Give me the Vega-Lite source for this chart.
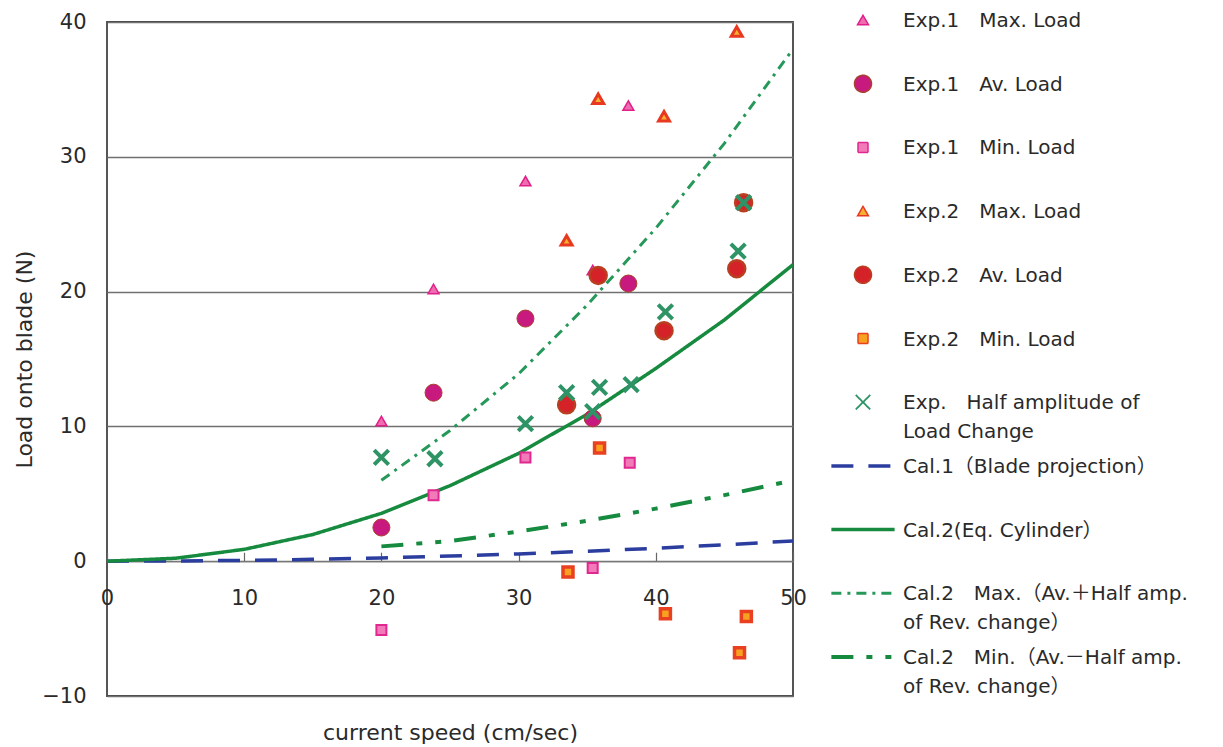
{
  "$schema": "https://vega.github.io/schema/vega-lite/v6.json",
  "padding": {"left": 12, "top": 10, "right": 5, "bottom": 5},
  "bounds": "flush",
  "spacing": 70,
  "background": "white",
  "config": {"font": "DejaVu Sans, Noto Sans CJK JP", "view": {"stroke": null}},
  "datasets": {
    "lines": [
      {"series": "cal1", "x": 0, "y": 0}, {"series": "cal1", "x": 5, "y": 0.02}, {"series": "cal1", "x": 10, "y": 0.06},
      {"series": "cal1", "x": 15, "y": 0.14}, {"series": "cal1", "x": 20, "y": 0.24}, {"series": "cal1", "x": 25, "y": 0.38},
      {"series": "cal1", "x": 30, "y": 0.54}, {"series": "cal1", "x": 35, "y": 0.74}, {"series": "cal1", "x": 40, "y": 0.96},
      {"series": "cal1", "x": 45, "y": 1.22}, {"series": "cal1", "x": 50, "y": 1.5},
      {"series": "cal2", "x": 0, "y": 0}, {"series": "cal2", "x": 5, "y": 0.22}, {"series": "cal2", "x": 10, "y": 0.88},
      {"series": "cal2", "x": 15, "y": 1.98}, {"series": "cal2", "x": 20, "y": 3.55}, {"series": "cal2", "x": 25, "y": 5.6},
      {"series": "cal2", "x": 30, "y": 8.0}, {"series": "cal2", "x": 35, "y": 10.9}, {"series": "cal2", "x": 40, "y": 14.3},
      {"series": "cal2", "x": 45, "y": 17.9}, {"series": "cal2", "x": 50, "y": 22.0},
      {"series": "cal2max", "x": 20, "y": 6.0}, {"series": "cal2max", "x": 25, "y": 9.7}, {"series": "cal2max", "x": 30, "y": 13.9},
      {"series": "cal2max", "x": 35, "y": 19.0}, {"series": "cal2max", "x": 40, "y": 24.7}, {"series": "cal2max", "x": 45, "y": 31.0},
      {"series": "cal2max", "x": 50, "y": 38.0},
      {"series": "cal2min", "x": 20, "y": 1.1}, {"series": "cal2min", "x": 25, "y": 1.5}, {"series": "cal2min", "x": 30, "y": 2.2},
      {"series": "cal2min", "x": 35, "y": 3.0}, {"series": "cal2min", "x": 40, "y": 3.9}, {"series": "cal2min", "x": 45, "y": 4.9},
      {"series": "cal2min", "x": 50, "y": 6.0}
    ],
    "points": [
      {"series": "e1max", "x": 20.0, "y": 10.4}, {"series": "e1max", "x": 23.8, "y": 20.2}, {"series": "e1max", "x": 30.5, "y": 28.2},
      {"series": "e1max", "x": 35.4, "y": 21.6}, {"series": "e1max", "x": 38.0, "y": 33.8},
      {"series": "e1av", "x": 20.0, "y": 2.5}, {"series": "e1av", "x": 23.8, "y": 12.5}, {"series": "e1av", "x": 30.5, "y": 18.0},
      {"series": "e1av", "x": 35.4, "y": 10.6}, {"series": "e1av", "x": 38.0, "y": 20.6},
      {"series": "e1min", "x": 20.0, "y": -5.1}, {"series": "e1min", "x": 23.8, "y": 4.9}, {"series": "e1min", "x": 30.5, "y": 7.7},
      {"series": "e1min", "x": 35.4, "y": -0.5}, {"series": "e1min", "x": 38.1, "y": 7.3},
      {"series": "e2max", "x": 33.5, "y": 23.8}, {"series": "e2max", "x": 35.8, "y": 34.3}, {"series": "e2max", "x": 40.6, "y": 33.0},
      {"series": "e2max", "x": 45.9, "y": 39.3},
      {"series": "e2av", "x": 33.5, "y": 11.6}, {"series": "e2av", "x": 35.8, "y": 21.2}, {"series": "e2av", "x": 40.6, "y": 17.1},
      {"series": "e2av", "x": 45.9, "y": 21.7}, {"series": "e2av", "x": 46.4, "y": 26.6},
      {"series": "e2min", "x": 33.6, "y": -0.8}, {"series": "e2min", "x": 35.9, "y": 8.4}, {"series": "e2min", "x": 40.7, "y": -3.9},
      {"series": "e2min", "x": 46.1, "y": -6.8}, {"series": "e2min", "x": 46.6, "y": -4.1},
      {"series": "half", "x": 20.0, "y": 7.7}, {"series": "half", "x": 23.9, "y": 7.6}, {"series": "half", "x": 30.5, "y": 10.2},
      {"series": "half", "x": 35.4, "y": 11.1}, {"series": "half", "x": 38.2, "y": 13.1}, {"series": "half", "x": 33.5, "y": 12.5},
      {"series": "half", "x": 35.9, "y": 12.9}, {"series": "half", "x": 40.7, "y": 18.5}, {"series": "half", "x": 46.0, "y": 23.0},
      {"series": "half", "x": 46.4, "y": 26.6}
    ],
    "legend": [
      {"series": "e1max", "order": 1, "label": "Exp.1　Max. Load"},
      {"series": "e1av", "order": 2, "label": "Exp.1　Av. Load"},
      {"series": "e1min", "order": 3, "label": "Exp.1　Min. Load"},
      {"series": "e2max", "order": 4, "label": "Exp.2　Max. Load"},
      {"series": "e2av", "order": 5, "label": "Exp.2　Av. Load"},
      {"series": "e2min", "order": 6, "label": "Exp.2　Min. Load"},
      {"series": "half", "order": 7, "label": ["Exp.　Half amplitude of", "Load Change"]},
      {"series": "cal1", "order": 8, "label": "Cal.1（Blade projection）"},
      {"series": "cal2", "order": 9, "label": "Cal.2(Eq. Cylinder）"},
      {"series": "cal2max", "order": 10, "label": ["Cal.2　Max.（Av.＋Half amp.", "of Rev. change）"]},
      {"series": "cal2min", "order": 11, "label": ["Cal.2　Min.（Av.－Half amp.", "of Rev. change）"]}
    ]
  },
  "hconcat": [
    {
      "width": 686,
      "height": 674,
      "view": {"stroke": "#444", "strokeWidth": 1.8},
      "encoding": {
        "x": {
          "field": "x", "type": "quantitative",
          "scale": {"domain": [0, 50], "nice": false, "zero": false},
          "axis": {
            "values": [0, 10, 20, 30, 40, 50], "title": "current speed (cm/sec)", "offset": -134.8,
            "grid": false, "domainColor": "#777", "domainWidth": 1.3, "tickColor": "#666", "tickSize": -9, "tickWidth": 1.2,
            "labelFontSize": 21, "labelColor": "#2a2a2a", "labelPadding": 35, "labelFlush": false,
            "titleFontSize": 22, "titleFontWeight": "normal", "titleColor": "#2a2a2a", "titleY": 171, "titleBaseline": "middle"
          }
        },
        "y": {
          "field": "y", "type": "quantitative",
          "scale": {"domain": [-10, 40], "nice": false, "zero": false},
          "axis": {
            "values": [-10, 0, 10, 20, 30, 40], "title": "Load onto blade  (N)",
            "grid": true, "gridColor": "#707070", "gridWidth": 1.3, "domain": false, "ticks": false,
            "labelFontSize": 21, "labelColor": "#2a2a2a", "labelPadding": 21, "labelFlush": false,
            "titleFontSize": 22, "titleFontWeight": "normal", "titleColor": "#2a2a2a",
            "titleX": -83, "titleY": 337, "titleAngle": -90, "titleAlign": "center", "titleBaseline": "middle"
          }
        }
      },
      "layer": [
        {
          "data": {"name": "lines"},
          "mark": {"type": "line", "clip": true},
          "encoding": {
            "stroke": {"field": "series", "type": "nominal", "legend": null,
              "scale": {"domain": ["e1max","e1av","e1min","e2max","e2av","e2min","half","cal1","cal2","cal2max","cal2min"],
                        "range": ["#e0208a","#a8402c","#e02890","#e83820","#b84020","#e84020","#2e9466","#2b3d9e","#168a3e","#26985a","#168a3e"]}},
            "strokeDash": {"field": "series", "type": "nominal", "legend": null,
              "scale": {"domain": ["e1max","e1av","e1min","e2max","e2av","e2min","half","cal1","cal2","cal2max","cal2min"],
                        "range": [[1,0],[1,0],[1,0],[1,0],[1,0],[1,0],[1,0],[22,15],[1,0],[10,6,3,6],[22,13,6,13,6,13]]}},
            "strokeWidth": {"field": "series", "type": "nominal", "legend": null,
              "scale": {"type": "ordinal", "domain": ["e1max","e1av","e1min","e2max","e2av","e2min","half","cal1","cal2","cal2max","cal2min"],
                        "range": [1.5,1.5,1.5,1.5,1.5,1.5,1.8,3.5,3.5,3,4]}},
            "order": {"field": "x", "type": "quantitative"}
          }
        },
        {
          "data": {"name": "points"},
          "mark": {"type": "point", "opacity": 1, "filled": true},
          "encoding": {
            "shape": {"field": "series", "type": "nominal", "legend": null,
              "scale": {"domain": ["e1max","e1av","e1min","e2max","e2av","e2min","half","cal1","cal2","cal2max","cal2min"],
                        "range": ["triangle-up","circle","square","triangle-up","circle","square","M-1,-1L1,1M1,-1L-1,1","M-1,0L1,0","M-1,0L1,0","M-1,0L1,0","M-1,0L1,0"]}},
            "fill": {"field": "series", "type": "nominal", "legend": null,
              "scale": {"domain": ["e1max","e1av","e1min","e2max","e2av","e2min","half","cal1","cal2","cal2max","cal2min"],
                        "range": ["#f06cb0","#c8197e","#f27ab8","#f8b030","#d42228","#f8a020","transparent","transparent","transparent","transparent","transparent"]}},
            "stroke": {"field": "series", "type": "nominal", "legend": null},
            "size": {"field": "series", "type": "nominal", "legend": null,
              "scale": {"type": "ordinal", "domain": ["e1max","e1av","e1min","e2max","e2av","e2min","half","cal1","cal2","cal2max","cal2min"],
                        "range": [120, 289, 100, 120, 289, 100, 210, 4000, 4000, 4000, 4000]}},
            "strokeWidth": {"field": "series", "type": "nominal", "legend": null}
          }
        }
      ]
    },
    {
      "width": 350,
      "height": 674,
      "data": {"name": "legend"},
      "encoding": {
        "y": {"field": "order", "type": "quantitative", "axis": null,
              "scale": {"domain": [1.031, 11.612], "reverse": true, "nice": false, "zero": false}},
        "x": {"datum": 0, "type": "quantitative", "axis": null, "scale": {"domain": [0, 1], "nice": false}}
      },
      "layer": [
        {
          "mark": {"type": "point", "opacity": 1, "filled": true},
          "encoding": {
            "shape": {"field": "series", "type": "nominal", "legend": null,
              "scale": {"domain": ["e1max","e1av","e1min","e2max","e2av","e2min","half","cal1","cal2","cal2max","cal2min"],
                        "range": ["triangle-up","circle","square","triangle-up","circle","square","M-1,-1L1,1M1,-1L-1,1","M-1,0L1,0","M-1,0L1,0","M-1,0L1,0","M-1,0L1,0"]}},
            "fill": {"field": "series", "type": "nominal", "legend": null,
              "scale": {"domain": ["e1max","e1av","e1min","e2max","e2av","e2min","half","cal1","cal2","cal2max","cal2min"],
                        "range": ["#f06cb0","#c8197e","#f27ab8","#f8b030","#d42228","#f8a020","transparent","transparent","transparent","transparent","transparent"]}},
            "stroke": {"field": "series", "type": "nominal", "legend": null,
              "scale": {"domain": ["e1max","e1av","e1min","e2max","e2av","e2min","half","cal1","cal2","cal2max","cal2min"],
                        "range": ["#e0208a","#a8402c","#e02890","#e83820","#b84020","#e84020","#2e9466","#2b3d9e","#168a3e","#26985a","#168a3e"]}},
            "size": {"field": "series", "type": "nominal", "legend": null,
              "scale": {"type": "ordinal", "domain": ["e1max","e1av","e1min","e2max","e2av","e2min","half","cal1","cal2","cal2max","cal2min"],
                        "range": [120, 289, 100, 120, 289, 100, 210, 4000, 4000, 4000, 4000]}},
            "strokeWidth": {"field": "series", "type": "nominal", "legend": null,
              "scale": {"type": "ordinal", "domain": ["e1max","e1av","e1min","e2max","e2av","e2min","half","cal1","cal2","cal2max","cal2min"],
                        "range": [1.5,1.5,1.5,1.5,1.5,1.5,1.8,3.5,3.5,3,4]}},
            "strokeDash": {"field": "series", "type": "nominal", "legend": null,
              "scale": {"domain": ["e1max","e1av","e1min","e2max","e2av","e2min","half","cal1","cal2","cal2max","cal2min"],
                        "range": [[1,0],[1,0],[1,0],[1,0],[1,0],[1,0],[1,0],[22,15],[1,0],[10,6,3,6],[22,13,6,13,6,13]]}}
          }
        },
        {
          "mark": {"type": "text", "align": "left", "baseline": "alphabetic", "dx": 40, "dy": 7, "fontSize": 20, "lineHeight": 29, "color": "#2a2a2a"},
          "encoding": {"text": {"field": "label", "type": "nominal"}}
        }
      ]
    }
  ]
}
